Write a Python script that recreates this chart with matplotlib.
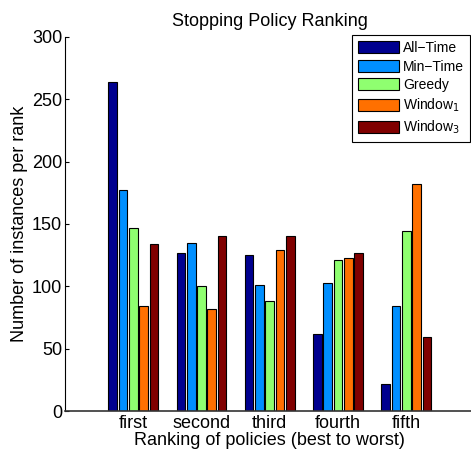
import matplotlib
matplotlib.use("Agg")
import matplotlib.pyplot as plt
import numpy as np

plt.rcParams['font.family'] = ['Liberation Sans', 'DejaVu Sans']

categories = ['first', 'second', 'third', 'fourth', 'fifth']
series_names = ['All\u2212Time', 'Min\u2212Time', 'Greedy', 'Window$_1$', 'Window$_3$']
all_time = [264, 127, 125, 62, 22]
min_time = [177, 135, 101, 103, 84]
greedy = [147, 100, 88, 121, 144]
window1 = [84, 82, 129, 123, 182]
window3 = [134, 140, 140, 127, 59]
series = [all_time, min_time, greedy, window1, window3]
colors = ['#00008F', '#008FFF', '#8FFF70', '#FF7000', '#800000']
yticks = [0, 50, 100, 150, 200, 250, 300]

W, H = 471, 455
fig = plt.figure(figsize=(W / 100, H / 100), dpi=100)
ax = fig.add_axes([65 / W, (H - 411) / H, (474.5 - 65) / W, 374 / H])

x = np.arange(1, len(categories) + 1)
step = 0.151
bw = 0.127
for i, (vals, c, name) in enumerate(zip(series, colors, series_names)):
    ax.bar(x + (i - 2) * step, vals, width=bw, color=c, edgecolor='black',
           linewidth=0.8, label=name, zorder=2)

ax.set_xlim(0, 6)
ax.set_ylim(0, 300)
ax.set_yticks(yticks)
ax.set_xticks(x)
ax.set_xticklabels(categories)
ax.tick_params(axis='y', direction='in', length=3, labelsize=13, pad=2)
ax.tick_params(axis='x', length=0, labelsize=13, pad=3)
for s in ['top', 'right']:
    ax.spines[s].set_visible(False)
ax.spines['left'].set_linewidth(0.8)
ax.spines['bottom'].set_linewidth(1.2)
ax.spines['bottom'].set_color('#333333')

ax.set_title('Stopping Policy Ranking', fontsize=13, pad=8)
ax.set_xlabel('Ranking of policies (best to worst)', fontsize=13, labelpad=0)
ax.set_ylabel('Number of instances per rank', fontsize=13, labelpad=3)

leg = ax.legend(loc='upper right', bbox_to_anchor=(470 / W, 1 - 35 / H),
                bbox_transform=fig.transFigure, fontsize=10, fancybox=False,
                framealpha=1, edgecolor='black', handlelength=2.9,
                handleheight=0.95, handletextpad=0.3, labelspacing=0.32,
                borderpad=0.45, borderaxespad=0)
leg.get_frame().set_linewidth(0.8)

fig.savefig('out.png', dpi=100)
